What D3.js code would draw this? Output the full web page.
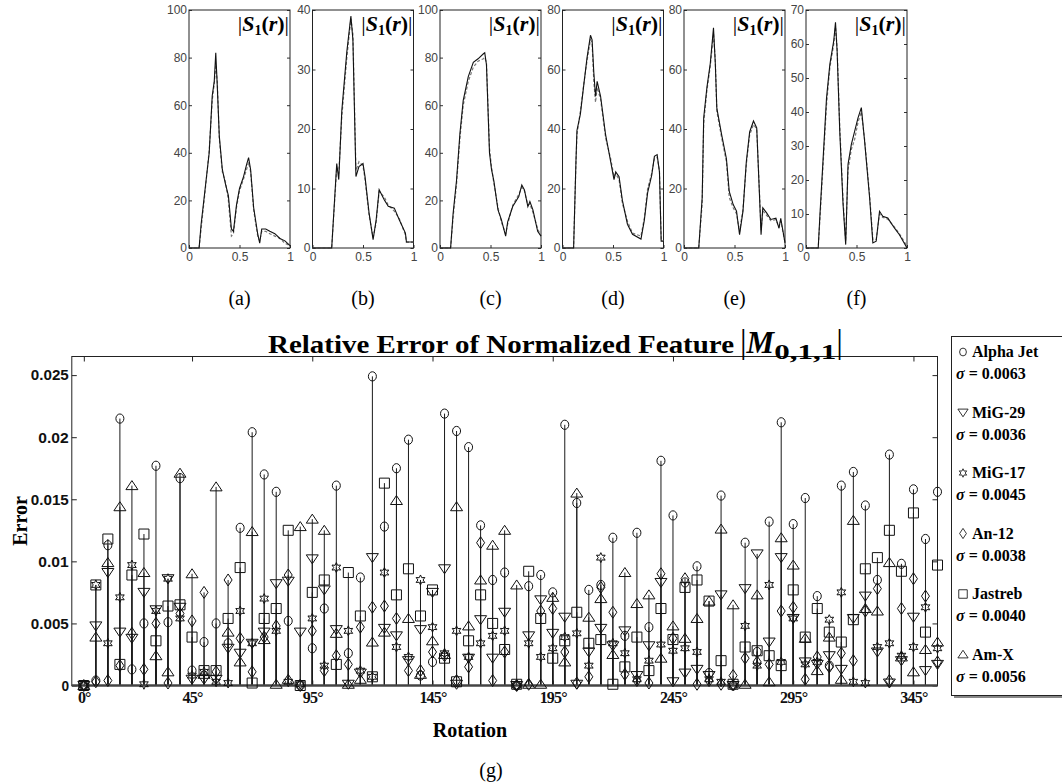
<!DOCTYPE html>
<html>
<head>
<meta charset="utf-8">
<script src="https://cdn.jsdelivr.net/npm/d3@7"></script>
<style>
  body { margin: 0; background: #fff; }
</style>
</head>
<body>
<div id="chart"></div>
<script>
// ---------- top panels: |S1(r)| profiles (solid = original, dashed = rotated)
var a_r     = [0, 0.10, 0.12, 0.16, 0.20, 0.23, 0.25, 0.265, 0.28, 0.30, 0.33, 0.36, 0.39, 0.42, 0.44, 0.47, 0.50, 0.54, 0.57, 0.59, 0.61, 0.64, 0.68, 0.70, 0.72, 0.76, 0.80, 0.85, 0.90, 0.95, 1.0];
var a_solid = [0, 0, 10, 25, 40, 64, 70, 82, 68, 47, 33, 27, 22, 8, 7, 18, 25, 30, 35, 38, 33, 17, 6, 2, 8, 8, 7, 6, 4, 3, 1];
var a_dash  = [0, 0, 8, 24, 41, 62, 69, 77, 70, 46, 32, 28, 20, 5, 6, 17, 24, 29, 33, 36, 32, 16, 5, 3, 7, 7, 6, 5, 4, 2, 1];

var b_r     = [0, 0.19, 0.24, 0.26, 0.29, 0.34, 0.38, 0.40, 0.43, 0.46, 0.50, 0.52, 0.56, 0.60, 0.63, 0.66, 0.71, 0.75, 0.81, 0.86, 0.92, 0.93, 1.0];
var b_solid = [0, 0, 14.2, 11.5, 23, 33, 39, 35, 12, 13.7, 14.2, 12, 5.9, 1.4, 4.7, 9.8, 8.1, 7, 6.7, 4.7, 2.5, 1, 1];
var b_dash  = [0, 0, 13.5, 12.5, 22, 32, 38.5, 36, 13, 14.5, 13.8, 11.5, 5.5, 1.8, 4.2, 9.5, 8.6, 7.2, 6.2, 4.9, 2.2, 1, 1];

var c_r     = [0, 0.105, 0.13, 0.164, 0.197, 0.23, 0.28, 0.33, 0.377, 0.43, 0.443, 0.46, 0.49, 0.51, 0.534, 0.574, 0.607, 0.65, 0.67, 0.72, 0.78, 0.81, 0.836, 0.87, 0.89, 0.92, 0.967, 1.0];
var c_solid = [0, 0, 14.6, 28.6, 48, 62, 72, 78, 79.5, 81.6, 82, 77, 40, 33, 28, 16, 12, 5, 11, 17.4, 21.6, 26.5, 24.4, 17.4, 19.5, 16, 7, 5];
var c_dash  = [0, 0, 13, 27, 46, 60, 70, 76, 78.5, 79.5, 80, 78, 42, 34, 27, 17, 11, 6, 10, 18, 22.5, 25.5, 24, 18, 18.5, 15, 8, 5];

var d_r     = [0, 0.11, 0.133, 0.143, 0.177, 0.21, 0.243, 0.277, 0.293, 0.31, 0.327, 0.343, 0.377, 0.427, 0.477, 0.51, 0.527, 0.56, 0.593, 0.643, 0.693, 0.777, 0.81, 0.843, 0.883, 0.91, 0.937, 0.96, 0.977, 1.0];
var d_solid = [0, 0, 29, 39.5, 45, 54.6, 64, 71.5, 70, 59, 51, 56, 51, 38, 29, 23, 25.6, 24, 16, 8, 4.6, 3, 9.3, 18.6, 24.4, 30.8, 31.4, 25.6, 2.3, 2.3];
var d_dash  = [0, 0, 28, 38, 46, 55, 63, 70, 69, 56, 49, 54, 50, 37, 30, 24, 25, 23, 15, 9, 5, 4, 10, 20, 25, 30, 30.5, 26, 3, 2.3];

var e_r     = [0, 0.146, 0.18, 0.195, 0.227, 0.26, 0.292, 0.31, 0.325, 0.373, 0.42, 0.448, 0.487, 0.52, 0.55, 0.584, 0.617, 0.65, 0.688, 0.72, 0.747, 0.763, 0.78, 0.818, 0.86, 0.91, 0.94, 0.958, 1.0];
var e_solid = [0, 0, 16.9, 43.8, 54, 62, 74, 62, 47, 38, 30, 19, 14.6, 12.4, 4.5, 12.4, 29, 39, 42.7, 40.4, 18, 4.5, 13.5, 11.8, 9.6, 10, 6.7, 10, 1.7];
var e_dash  = [0, 0, 15, 42, 53, 61, 72, 63, 46, 37, 29, 17, 13.5, 11.5, 5.5, 13, 28, 38, 41.5, 40, 19, 6, 12.5, 11, 9.2, 9.5, 7, 9, 2];

var f_r     = [0, 0.121, 0.138, 0.17, 0.203, 0.236, 0.275, 0.292, 0.308, 0.334, 0.367, 0.393, 0.416, 0.449, 0.482, 0.515, 0.548, 0.58, 0.63, 0.662, 0.695, 0.728, 0.76, 0.81, 0.875, 0.925, 1.0];
var f_solid = [0, 0, 9.8, 26.5, 44, 54, 61, 66.4, 58, 34.4, 12.8, 1, 24.6, 30.5, 34.4, 38.3, 41.3, 31.5, 14.7, 1.5, 2, 10.8, 9.3, 8.8, 5.9, 3.9, 0];
var f_dash  = [0, 0, 8.5, 25, 42, 53, 60, 65, 59, 36, 14, 2, 23, 29, 32, 37, 40, 32, 15.5, 2.5, 2.5, 10, 9, 8.5, 6.2, 4.2, 0.5];

var panelNames  = ["(a)", "(b)", "(c)", "(d)", "(e)", "(f)"];
var panelYMax   = [100, 40, 100, 80, 80, 70];
var panelYTicks = [[0,20,40,60,80,100], [0,10,20,30,40], [0,20,40,60,80,100], [0,20,40,60,80], [0,20,40,60,80], [0,10,20,30,40,50,60,70]];

// ---------- bottom chart: relative error per rotation (x 0.001)
var rotations = [0,5,10,15,20,25,30,35,40,45,50,55,60,65,70,75,80,85,90,95,100,105,110,115,
                 120,125,130,135,140,145,150,155,160,165,170,175,180,185,190,195,200,205,210,215,
                 220,225,230,235,240,245,250,255,260,265,270,275,280,285,290,295,300,305,310,315,
                 320,325,330,335,340,345,350,355];
var rotTickAngles = [0, 45, 95, 145, 195, 245, 295, 345];
var errTicks = [0, 0.005, 0.01, 0.015, 0.02, 0.025];
var errTickLabels = ["0", "0.005", "0.01", "0.015", "0.02", "0.025"];

var alphaJet = [0,0.4,11.3,21.5,1.3,5.0,17.7,5.1,16.7,1.2,3.5,5.0,3.4,12.7,20.4,17.0,15.6,5.2,0,3.0,6.2,16.1,2.6,8.7,
                24.9,12.8,17.5,19.8,0.8,1.9,21.9,20.5,19.2,12.9,8.5,9.1,0,8.0,8.9,7.5,21.0,14.7,7.7,8.1,
                11.9,4.0,12.3,4.7,18.1,13.7,8.3,9.6,1.0,15.3,0,11.5,2.7,13.2,21.2,13.0,15.1,7.2,1.6,16.1,
                17.2,14.5,8.5,18.6,9.8,15.8,11.8,15.6];
var mig29 = [0,4.8,9.1,4.3,3.8,7.5,6.1,8.6,6.3,0.5,0.5,0.5,3.0,2.6,3.4,4.3,8.2,8.4,4.3,10.2,7.7,4.5,0.1,1.0,
             10.3,4.6,4.0,2.0,4.5,7.5,9.4,0.1,2.2,5.3,2.2,5.9,0,4.0,6.9,4.2,5.5,0.1,2.7,4.6,
             3.2,4.4,0.8,3.2,8.3,0.3,1.0,1.3,0.8,7.3,0,7.8,10.6,3.5,10.3,5.4,1.9,1.7,2.4,1.3,
             5.4,7.2,2.7,0.2,2.0,5.5,1.2,1.7];
var mig17 = [0,8.1,3.4,7.1,9.7,0.1,6.0,8.6,5.4,0.8,1.1,0.3,0.2,6.0,3.4,7.0,4.4,0.3,0.1,5.4,1.6,9.5,4.4,1.2,
             0.7,9.1,3.1,2.3,8.5,4.7,2.6,4.4,2.3,3.4,4.0,4.4,0,3.4,2.3,3.0,3.9,4.2,1.6,10.3,
             3.4,2.6,0.5,2.0,3.3,2.8,3.0,2.7,0.5,0.3,0,4.8,1.6,8.1,1.9,5.4,1.7,1.9,5.3,7.5,
             0.3,0.2,3.1,3.4,2.4,3.1,6.3,3.0];
var an12 = [0,0.3,0.4,1.6,4.2,1.3,5.0,0.2,5.8,5.2,7.5,1.1,8.5,3.8,1.1,3.9,4.8,8.9,0,4.4,1.2,2.4,1.7,4.7,
            6.3,6.4,5.4,1.2,1.2,2.7,2.4,0.4,1.5,11.5,0.4,2.7,0,0.1,6.0,6.2,2.7,0.2,0.7,7.9,
            5.9,0.9,0.4,0.2,9.0,3.8,8.6,0.1,0.4,0.1,0.8,2.2,1.9,1.7,6.0,6.3,0.5,2.3,1.5,2.6,
            2.0,6.0,7.8,0.4,6.2,8.6,7.2,1.9];
var jastreb = [0,8.1,11.8,1.7,8.9,12.2,3.6,6.4,6.5,3.9,1.2,1.2,5.4,9.5,0.2,5.4,6.2,12.5,0,7.5,8.5,1.7,9.1,5.6,
               0.7,16.3,7.3,9.4,5.6,7.7,2.2,0.3,3.6,7.3,5.0,2.9,0.1,9.2,5.4,2.2,3.6,5.9,3.4,3.7,
               0.1,1.5,3.9,1.2,6.2,3.7,7.9,8.5,6.8,2.0,0.1,3.1,2.8,2.4,1.6,7.7,3.9,6.2,4.3,3.5,
               5.3,9.4,10.3,12.5,9.2,13.9,4.3,9.7];
var amX = [0,3.9,9.9,14.4,16.1,9.1,2.4,1.1,17.1,9.0,0.9,16.0,4.3,1.9,12.4,3.7,0.1,0.5,12.8,13.4,12.5,4.2,0.1,0.5,
           3.5,4.3,14.9,5.4,0.9,3.6,2.5,14.4,4.8,8.5,11.3,12.5,8.1,0.1,0.1,7.1,1.9,15.5,5.5,7.0,
           2.5,9.1,6.6,7.3,2.2,4.8,3.8,5.4,6.8,12.6,6.5,0.1,7.3,0.3,11.9,9.7,3.8,1.2,3.9,0.5,
           13.3,6.2,6.0,9.9,2.3,1.1,2.9,3.5];

var seriesNames  = ["Alpha Jet", "MiG-29", "MiG-17", "An-12", "Jastreb", "Am-X"];
var seriesSigmas = ["0.0063", "0.0036", "0.0045", "0.0038", "0.0040", "0.0056"];
var seriesMarks  = ["circle", "down", "hexagram", "diamond", "square", "up"];

// ---------- marker shapes (MATLAB-like, hollow)
function markerPath(kind){
  switch(kind){
    case "circle": return "M0,-4.6 A4,4.6 0 1,1 0,4.6 A4,4.6 0 1,1 0,-4.6Z";
    case "square": return "M-5,-5 L5,-5 L5,5 L-5,5Z";
    case "up": return "M0,-5 L6,4 L-6,4Z";
    case "down": return "M0,5 L6,-4 L-6,-4Z";
    case "diamond": return "M0,-6 L4,0 L0,6 L-4,0Z";
    case "hexagram":
      var pts = [];
      for (var k = 0; k < 12; k++){
        var rr = (k % 2 == 0) ? 5 : 2.6;
        var ang = -Math.PI/2 + k*Math.PI/6;
        pts.push((rr*Math.cos(ang)).toFixed(2) + "," + (rr*Math.sin(ang)).toFixed(2));
      }
      return "M" + pts.join("L") + "Z";
  }
}

// squeeze a text element horizontally to a given width
function fitWidth(sel, widthOf){
  sel.each(function(d, k){
    var w = this.getComputedTextLength();
    var target = widthOf(d, k);
    if (w > 0 && target > 0) d3.select(this).attr("transform", "scale(" + (target / w) + ",1)");
  });
}

var svg = d3.select("#chart").append("svg")
  .attr("width", 1062)
  .attr("height", 783)
  .style("font-family", "'Liberation Serif', serif");

// ---------- top panels
var panelLeft  = [189, 312.5, 440, 562.5, 684, 806];
var panelData  = [[a_r,a_solid,a_dash],[b_r,b_solid,b_dash],[c_r,c_solid,c_dash],[d_r,d_solid,d_dash],[e_r,e_solid,e_dash],[f_r,f_solid,f_dash]];

panelNames.forEach(function(name, i){
  var left = panelLeft[i], right = left + 101, top = 10, bottom = 248;
  var x = d3.scaleLinear().domain([0, 1]).range([left, right]);
  var y = d3.scaleLinear().domain([0, panelYMax[i]]).range([bottom, top]);
  var g = svg.append("g");

  // y ticks on both sides, pointing inward
  var yl = g.append("g").attr("transform", "translate(" + left + ",0)")
    .call(d3.axisLeft(y).tickValues(panelYTicks[i]).tickSize(-3).tickPadding(2));
  var yr = g.append("g").attr("transform", "translate(" + right + ",0)")
    .call(d3.axisRight(y).tickValues(panelYTicks[i]).tickSize(-3).tickFormat(""));
  var xb = g.append("g").attr("transform", "translate(0," + bottom + ")")
    .call(d3.axisBottom(x).tickValues([0, 0.5, 1]).tickSize(-3).tickPadding(4).tickFormat(d3.format("")));
  [yl, yr, xb].forEach(function(ax){
    ax.select(".domain").remove();
    ax.selectAll("text").style("font-family", "'Liberation Sans', sans-serif").style("font-size", "12px").attr("fill", "#444");
    ax.selectAll("line").attr("stroke", "#333");
  });

  g.append("rect")
    .attr("x", left).attr("y", top)
    .attr("width", right - left).attr("height", bottom - top)
    .attr("fill", "none").attr("stroke", "#222");

  var pts = panelData[i];
  var lineS = d3.line().x(function(d, k){ return x(pts[0][k]); }).y(function(d){ return y(d); });
  g.append("path").datum(pts[2]).attr("d", lineS)
    .attr("fill", "none").attr("stroke", "#777").attr("stroke-width", 1.2).attr("stroke-dasharray", "3,2");
  g.append("path").datum(pts[1]).attr("d", lineS)
    .attr("fill", "none").attr("stroke", "#111").attr("stroke-width", 1.1);

  // |S1(r)| label
  var lab = g.append("text").attr("x", right - 1).attr("y", top + 21)
    .attr("text-anchor", "end").style("font-size", "22px").style("font-weight", "bold");
  lab.append("tspan").style("font-weight", "normal").text("|");
  lab.append("tspan").style("font-style", "italic").text("S");
  lab.append("tspan").attr("dy", 4).style("font-size", "14px").text("1");
  lab.append("tspan").attr("dy", -4).text("(");
  lab.append("tspan").style("font-style", "italic").text("r");
  lab.append("tspan").text(")");
  lab.append("tspan").style("font-weight", "normal").text("|");

  svg.append("text").attr("x", (left + right) / 2).attr("y", 305)
    .attr("text-anchor", "middle").style("font-size", "20px").text(name);
});

// ---------- bottom stem chart
var L = 71.8, R = 937.5, T = 356.5, B = 685.5;
var x = d3.scaleLinear().domain([0, 72]).range([L, R]);
var y = d3.scaleLinear().domain([0, 0.0265]).range([B, T]);
function xi(k){ return x(k + 1); }   // stem k sits at index k+1

svg.append("rect").attr("x", L).attr("y", T).attr("width", R - L).attr("height", B - T)
  .attr("fill", "none").attr("stroke", "#222");

var tickIdx = rotTickAngles.map(function(a){ return rotations.indexOf(a) + 1; });

var ax1 = svg.append("g").attr("transform", "translate(" + L + ",0)")
  .call(d3.axisLeft(y).tickValues(errTicks).tickSize(-5).tickPadding(3)
    .tickFormat(function(d, k){ return errTickLabels[k]; }));
var ax2 = svg.append("g").attr("transform", "translate(" + R + ",0)")
  .call(d3.axisRight(y).tickValues(errTicks).tickSize(-5).tickFormat(""));
var ax3 = svg.append("g").attr("transform", "translate(0," + B + ")")
  .call(d3.axisBottom(x).tickValues(tickIdx).tickSize(-5).tickPadding(6)
    .tickFormat(function(d, k){ return rotTickAngles[k] + "\u00b0"; }));
var ax4 = svg.append("g").attr("transform", "translate(0," + T + ")")
  .call(d3.axisTop(x).tickValues(tickIdx).tickSize(-5).tickFormat(""));
[ax1, ax2, ax3, ax4].forEach(function(ax){
  ax.select(".domain").remove();
  ax.selectAll("line").attr("stroke", "#222");
});
// condensed bold tick labels, like the bitmap font of the original
ax1.selectAll("text").style("font-family", "'Liberation Sans', sans-serif")
  .style("font-size", "15px").style("font-weight", "bold").attr("fill", "#111");
fitWidth(ax1.selectAll("text"), function(d, k){ return errTickLabels[k].length * 7.6; });
ax3.selectAll("text").style("font-family", "'Liberation Serif', serif")
  .style("font-size", "16px").style("font-weight", "bold").attr("fill", "#111").attr("letter-spacing", "-0.8");

var allSeries = [alphaJet, mig29, mig17, an12, jastreb, amX];
var stems = svg.append("g");
allSeries.forEach(function(vals){
  stems.selectAll(null).data(vals).enter().append("line")
    .attr("x1", function(d, k){ return xi(k); })
    .attr("x2", function(d, k){ return xi(k); })
    .attr("y1", y(0))
    .attr("y2", function(d){ return y(d / 1000); })
    .attr("stroke", "#1a1a1a").attr("stroke-width", 1);
});

// baseline
svg.append("line").attr("x1", L).attr("x2", R).attr("y1", y(0)).attr("y2", y(0))
  .attr("stroke", "#444").attr("stroke-width", 2.5);

allSeries.forEach(function(vals, s){
  svg.append("g").selectAll("path").data(vals).enter().append("path")
    .attr("d", markerPath(seriesMarks[s]))
    .attr("transform", function(d, k){ return "translate(" + xi(k) + "," + y(d / 1000) + ")"; })
    .attr("fill", "none").attr("stroke", "#111").attr("stroke-width", 1);
});

// titles
var title = svg.append("text").attr("x", 268).attr("y", 353)
  .style("font-size", "25px").style("font-weight", "bold");
title.append("tspan").attr("textLength", 466).attr("lengthAdjust", "spacingAndGlyphs")
  .text("Relative Error of Normalized Feature");
title.append("tspan").attr("dx", 6).style("font-size", "33px").style("font-weight", "normal").text("|");
title.append("tspan").style("font-style", "italic").style("font-size", "31px").text("M");
title.append("tspan").attr("dy", 6).style("font-size", "21px")
  .attr("textLength", 62).attr("lengthAdjust", "spacingAndGlyphs").text("0,1,1");
title.append("tspan").attr("dy", -6).style("font-size", "33px").style("font-weight", "normal").text("|");

svg.append("text").attr("transform", "translate(27,521) rotate(-90)")
  .attr("text-anchor", "middle").style("font-size", "20px").style("font-weight", "bold").text("Error");
svg.append("text").attr("x", 470).attr("y", 737)
  .attr("text-anchor", "middle").style("font-size", "20px").style("font-weight", "bold").text("Rotation");
svg.append("text").attr("x", 491).attr("y", 777)
  .attr("text-anchor", "middle").style("font-size", "20px").text("(g)");

// ---------- legend
var lg = svg.append("g");
lg.append("rect").attr("x", 954).attr("y", 339).attr("width", 120).attr("height", 359)
  .attr("fill", "#888");
lg.append("rect").attr("x", 951.5).attr("y", 336.5).attr("width", 120).attr("height", 359)
  .attr("fill", "#fff").attr("stroke", "#222");
seriesNames.forEach(function(name, s){
  var yy = 357 + s * 60.5;
  lg.append("path").attr("d", markerPath(seriesMarks[s]))
    .attr("transform", "translate(963," + (yy - 5) + ") scale(0.85)")
    .attr("fill", "none").attr("stroke", "#111");
  lg.append("text").attr("x", 972).attr("y", yy)
    .style("font-size", "16px").style("font-weight", "bold").text(name);
  var sg = lg.append("text").attr("x", 956).attr("y", yy + 22)
    .style("font-size", "16px").style("font-weight", "bold");
  sg.append("tspan").style("font-style", "italic").text("\u03c3");
  sg.append("tspan").text(" = " + seriesSigmas[s]);
});
</script>
</body>
</html>
